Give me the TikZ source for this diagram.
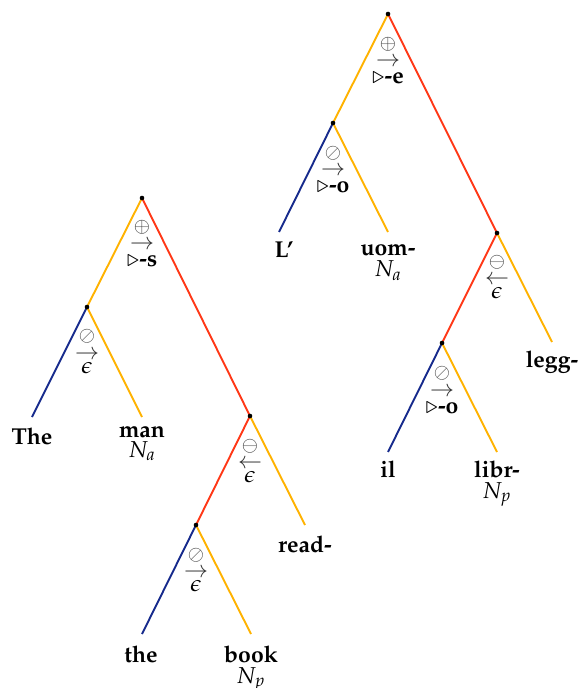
\documentclass[tikz,border=0pt]{standalone}
\usepackage[T1]{fontenc}
\usepackage{mathpazo}
\usetikzlibrary{calc}
\definecolor{corange}{RGB}{255,178,0}
\definecolor{cred}{RGB}{255,55,22}
\definecolor{cblue}{RGB}{22,42,140}
\begin{document}
\begin{tikzpicture}[x=0.5pt,y=-0.5pt,
  every node/.style={font=\fontsize{11.5}{14}\selectfont, inner sep=0pt},
  edge/.style={line width=0.95pt},
  oedge/.style={edge, draw=corange},
  redge/.style={edge, draw=cred},
  bedge/.style={edge, draw=cblue},
  dot/.style={circle, fill=black, inner sep=0pt, minimum size=2.3pt},
  sym/.style={text=black!80, anchor=base},
  opsym/.style={text=black!75, anchor=base, font=\fontsize{10}{12}\selectfont},
  lab/.style={anchor=base},
  word/.style={anchor=base, font=\fontsize{11.5}{14}\selectfont\bfseries},
  cat/.style={anchor=base}]
\useasboundingbox (0,0) rectangle (579,688);
% ---------- left tree ----------
\coordinate (r1) at (142,198);
\coordinate (a1) at (87,307);
\coordinate (b1) at (250,416);
\coordinate (c1) at (196,525);
\coordinate (l1) at (32,417);
\coordinate (l2) at (142,417);
\coordinate (l3) at (305,525);
\coordinate (l4) at (142,634);
\coordinate (l5) at (251,634);
\draw[oedge] (r1) -- (a1);
\draw[redge] (r1) -- (b1);
\draw[bedge] (a1) -- (l1);
\draw[oedge] (a1) -- (l2);
\draw[redge] (b1) -- (c1);
\draw[oedge] (b1) -- (l3);
\draw[bedge] (c1) -- (l4);
\draw[oedge] (c1) -- (l5);
\foreach \n in {r1,a1,b1,c1} {\node[dot] (\n d) at (\n) {};}
% labels under internal nodes
\node[opsym] (r1o) at ($(r1)+(0,35)$) {$\oplus$};
\node[sym] (r1a) at ($(r1)+(0,52)$) {$\rightarrow$};
\node[lab] (r1t) at ($(r1)+(0,69)$) {$\triangleright$\textbf{-s}};
\node[opsym] (a1o) at ($(a1)+(0,35)$) {$\oslash$};
\node[sym] (a1a) at ($(a1)+(0,52)$) {$\rightarrow$};
\node[lab] (a1t) at ($(a1)+(0,66)$) {$\epsilon$};
\node[opsym] (b1o) at ($(b1)+(0,35)$) {$\ominus$};
\node[sym] (b1a) at ($(b1)+(0,52)$) {$\leftarrow$};
\node[lab] (b1t) at ($(b1)+(0,66)$) {$\epsilon$};
\node[opsym] (c1o) at ($(c1)+(0,35)$) {$\oslash$};
\node[sym] (c1a) at ($(c1)+(0,52)$) {$\rightarrow$};
\node[lab] (c1t) at ($(c1)+(0,66)$) {$\epsilon$};
% leaves
\node[word] (w1) at (32,444) {The};
\node[word] (w2) at (142,437) {man};
\node[cat] (w2c) at (142,457) {$N_a$};
\node[word] (w3) at (305,552) {read-};
\node[word] (w4) at (141,662) {the};
\node[word] (w5) at (251,662) {book};
\node[cat] (w5c) at (251,683) {$N_p$};
% ---------- right tree ----------
\coordinate (r2) at (388,14);
\coordinate (a2) at (333,123);
\coordinate (b2) at (497,233);
\coordinate (c2) at (442,343);
\coordinate (m1) at (279,232);
\coordinate (m2) at (388,232);
\coordinate (m3) at (552,342);
\coordinate (m4) at (388,452);
\coordinate (m5) at (497,452);
\draw[oedge] (r2) -- (a2);
\draw[redge] (r2) -- (b2);
\draw[bedge] (a2) -- (m1);
\draw[oedge] (a2) -- (m2);
\draw[redge] (b2) -- (c2);
\draw[oedge] (b2) -- (m3);
\draw[bedge] (c2) -- (m4);
\draw[oedge] (c2) -- (m5);
\foreach \n in {r2,a2,b2,c2} {\node[dot] (\n d) at (\n) {};}
\node[opsym] (r2o) at ($(r2)+(0,36)$) {$\oplus$};
\node[sym] (r2a) at ($(r2)+(0,53)$) {$\rightarrow$};
\node[lab] (r2t) at ($(r2)+(0,70)$) {$\triangleright$\textbf{-e}};
\node[opsym] (a2o) at ($(a2)+(0,36)$) {$\oslash$};
\node[sym] (a2a) at ($(a2)+(0,53)$) {$\rightarrow$};
\node[lab] (a2t) at ($(a2)+(0,70)$) {$\triangleright$\textbf{-o}};
\node[opsym] (b2o) at ($(b2)+(0,35)$) {$\ominus$};
\node[sym] (b2a) at ($(b2)+(0,52)$) {$\leftarrow$};
\node[lab] (b2t) at ($(b2)+(0,66)$) {$\epsilon$};
\node[opsym] (c2o) at ($(c2)+(0,36)$) {$\oslash$};
\node[sym] (c2a) at ($(c2)+(0,53)$) {$\rightarrow$};
\node[lab] (c2t) at ($(c2)+(0,70)$) {$\triangleright$\textbf{-o}};
\node[word] (v1) at (284,258) {L'};
\node[word] (v2) at (388,256) {uom-};
\node[cat] (v2c) at (388,277) {$N_a$};
\node[word] (v3) at (552,367) {legg-};
\node[word] (v4) at (388,477) {il};
\node[word] (v5) at (497,477) {libr-};
\node[cat] (v5c) at (497,498) {$N_p$};
\end{tikzpicture}
\end{document}
